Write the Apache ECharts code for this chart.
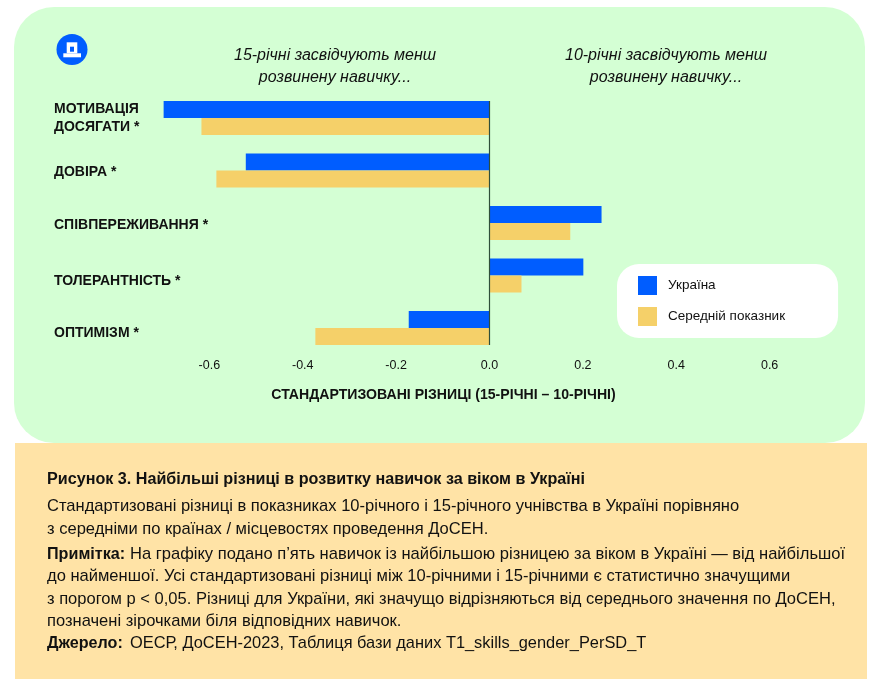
<!DOCTYPE html>
<html><head><meta charset="utf-8">
<style>html,body{margin:0;padding:0;background:#fff}#c{width:882px;height:689px}</style>
<script src="https://cdn.jsdelivr.net/npm/echarts@6/dist/echarts.min.js"></script>
</head><body><div id="c"></div>
<script>
var categories = ['МОТИВАЦІЯ\nДОСЯГАТИ *','ДОВІРА *','СПІВПЕРЕЖИВАННЯ *','ТОЛЕРАНТНІСТЬ *','ОПТИМІЗМ *'];
var labelNudge = [1,2,2,5.5,5];
var ukraine = [-0.698,-0.522,0.24,0.201,-0.173];
var average = [-0.617,-0.585,0.173,0.0685,-0.373];
var xTicks = [-0.6,-0.4,-0.2,0,0.2,0.4,0.6];
var FONT = '"Liberation Sans", Arial, sans-serif';
var ink = '#111';
function txt(x,y,text,style){
  return {type:'text',x:x,y:y,z:5,style:Object.assign({text:text,fill:ink,textVerticalAlign:'middle'},style)};
}
var chart = echarts.init(document.getElementById('c'),null,{renderer:'canvas'});
var body={font:'16.55px '+FONT}, bold={font:'bold 16.15px '+FONT};
var ital={font:'italic 16px '+FONT,textAlign:'center'};
var labelBase={fontFamily:FONT,fontSize:14,fontWeight:'bold',color:ink,lineHeight:19,align:'left'};
var labelRich={plain:labelBase};
categories.forEach(function(c,i){
  labelRich['n'+i]=Object.assign({},labelBase,{padding:[labelNudge[i]*2,0,0,0]});
});
chart.setOption({
  animation:false,
  backgroundColor:'#fff',
  graphic:{elements:[
    {type:'rect',z:-10,shape:{x:14,y:7,width:851,height:436,r:40},style:{fill:'#d4ffd4'}},
    {type:'rect',z:-9,shape:{x:15,y:443,width:852,height:236},style:{fill:'#ffe3a6'}},
    {type:'circle',z:5,shape:{cx:72,cy:49.5,r:15.5},style:{fill:'#005dff'}},
    {type:'rect',z:6,shape:{x:66.7,y:42.3,width:10.6,height:11},style:{fill:'#fff'}},
    {type:'rect',z:6,shape:{x:63.3,y:53.3,width:17.7,height:4},style:{fill:'#fff'}},
    {type:'rect',z:7,shape:{x:70,y:46.7,width:4,height:5},style:{fill:'#005dff'}},
    txt(335,56,'15-річні засвідчують менш',ital),
    txt(335,78,'розвинену навичку...',ital),
    txt(666,56,'10-річні засвідчують менш',ital),
    txt(666,78,'розвинену навичку...',ital),
    txt(47,480,'Рисунок 3. Найбільші різниці в розвитку навичок за віком в Україні',bold),
    txt(47,506,'Стандартизовані різниці в показниках 10-річного і 15-річного учнівства в Україні порівняно',body),
    txt(47,529,'з середніми по країнах / місцевостях проведення ДоСЕН.',body),
    txt(47,555,'Примітка:',bold),
    txt(130,554,'На графіку подано п’ять навичок із найбільшою різницею за віком в Україні — від найбільшої',body),
    txt(47,576,'до найменшої. Усі стандартизовані різниці між 10-річними і 15-річними є статистично значущими',body),
    txt(47,599,'з порогом p < 0,05. Різниці для України, які значущо відрізняються від середнього значення по ДоСЕН,',body),
    txt(47,621,'позначені зірочками біля відповідних навичок.',body),
    txt(47,644,'Джерело:',bold),
    txt(130,643,'ОЕСР, ДоСЕН-2023, Таблиця бази даних T1_skills_gender_PerSD_T',{font:'16.4px '+FONT})
  ]},
  legend:{
    left:617,top:264,orient:'vertical',icon:'rect',
    itemWidth:19,itemHeight:19,itemGap:12,
    padding:[12,53,12,21],
    backgroundColor:'#fff',borderRadius:22,
    textStyle:{fontFamily:FONT,fontSize:13.5,color:ink,padding:[2,0,0,6]},
    data:['Україна','Середній показник']
  },
  grid:{left:116,right:19,top:91.75,bottom:334.75,outerBoundsMode:'none'},
  xAxis:{
    type:'value',min:-0.8,max:0.8,interval:0.2,
    axisLine:{show:false},axisTick:{show:false},splitLine:{show:false},
    axisLabel:{margin:5,fontFamily:FONT,fontSize:12.5,color:ink,
      formatter:function(v){var r=Math.round(v*10)/10;return xTicks.indexOf(r)<0?'':r.toFixed(1);}},
    name:'СТАНДАРТИЗОВАНІ РІЗНИЦІ (15-РІЧНІ – 10-РІЧНІ)',
    nameLocation:'middle',nameGap:34,
    nameTextStyle:{fontFamily:FONT,fontSize:14.1,fontWeight:'bold',color:ink,padding:[0,92,0,0]}
  },
  yAxis:{
    type:'category',inverse:true,data:categories,
    axisLine:{show:false},axisTick:{show:false},
    axisLabel:{margin:62,interval:0,align:'left',fontFamily:FONT,fontSize:14,fontWeight:'bold',color:ink,lineHeight:19,
      rich:labelRich,
      formatter:function(v,i){
        return v.split('\n').map(function(s,k){return '{'+(k===0?'n'+i:'plain')+'|'+s+'}';}).join('\n');
      }}
  },
  series:[
    {name:'Україна',type:'bar',data:ukraine,barWidth:17,barGap:0,itemStyle:{color:'#005dff'},z:2,
     markLine:{silent:true,symbol:'none',label:{show:false},animation:false,z:4,
       lineStyle:{color:'#2f4f3a',width:1.2,type:'solid'},
       data:[[{xAxis:0,y:101},{xAxis:0,y:345}]]}},
    {name:'Середній показник',type:'bar',data:average,barWidth:17,barGap:0,itemStyle:{color:'#f5d069'},z:2}
  ]
});
</script></body></html>
